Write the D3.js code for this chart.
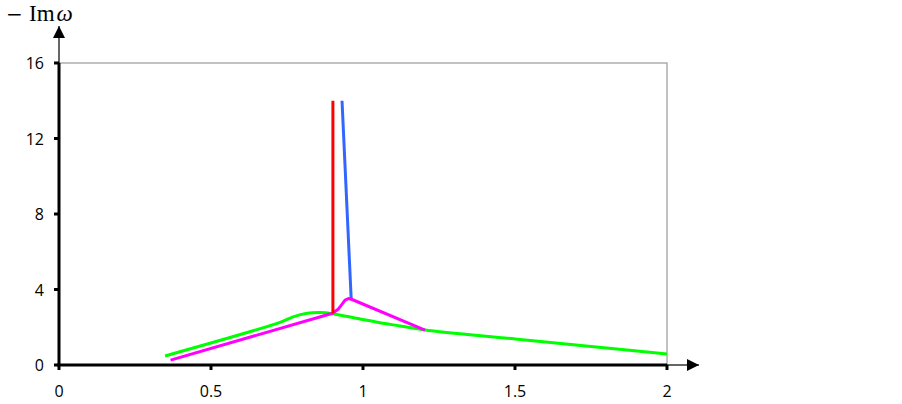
<!DOCTYPE html>
<html>
<head>
<meta charset="utf-8">
<script src="https://cdn.jsdelivr.net/npm/d3@7"></script>
<style>
  body { margin: 0; background: #fff; }
  text { font-family: "Open Sans", "Liberation Sans", sans-serif; }
</style>
</head>
<body>
<script>
var w = 902;
var h = 404;

// axis ticks
var xTicks = [0, 0.5, 1, 1.5, 2];
var yTicks = [0, 4, 8, 12, 16];

// curves (x, -Im omega)
var redLine = [[0.901, 14.0], [0.901, 2.75]];
var blueLine = [[0.931, 14.0], [0.961, 3.55]];
var magentaLine = [[0.367, 0.26], [0.900, 2.74], [0.918, 2.95], [0.930, 3.2], [0.941, 3.44],
  [0.952, 3.52], [0.964, 3.47], [1.204, 1.85]];
var greenLine = [[0.349, 0.48], [0.727, 2.26], [0.770, 2.55], [0.816, 2.74], [0.860, 2.78],
  [0.900, 2.72], [0.990, 2.44], [1.056, 2.24], [1.122, 2.07], [1.204, 1.85], [1.5, 1.38],
  [1.75, 0.98], [2.0, 0.58]];

var svg = d3.select("body").append("svg").attr("width", w).attr("height", h);

var x = d3.scaleLinear().domain([0, 2]).range([59, 667]);
var y = d3.scaleLinear().domain([0, 16]).range([365, 63]);

// plot frame (gray)
svg.append("rect")
  .attr("x", x(0)).attr("y", y(16))
  .attr("width", x(2) - x(0)).attr("height", y(0) - y(16))
  .attr("fill", "none").attr("stroke", "#999").attr("stroke-width", 1.2);

// arrow marker
var defs = svg.append("defs");
defs.append("marker").attr("id", "arr")
  .attr("viewBox", "0 0 10 10").attr("refX", 10).attr("refY", 5)
  .attr("markerWidth", 12).attr("markerHeight", 12).attr("markerUnits", "userSpaceOnUse")
  .attr("orient", "auto")
  .append("path").attr("d", "M0,0L10,5L0,10Z").attr("fill", "#000");

// thin axis extensions with arrows
svg.append("line").attr("x1", x(2)).attr("y1", y(0)).attr("x2", 699).attr("y2", y(0))
  .attr("stroke", "#000").attr("stroke-width", 1.2).attr("marker-end", "url(#arr)");
svg.append("line").attr("x1", x(0)).attr("y1", y(16)).attr("x2", x(0)).attr("y2", 26)
  .attr("stroke", "#000").attr("stroke-width", 1.2).attr("marker-end", "url(#arr)");

// thick axes
svg.append("line").attr("x1", x(0) - 2).attr("y1", y(0)).attr("x2", x(2)).attr("y2", y(0))
  .attr("stroke", "#000").attr("stroke-width", 3);
svg.append("line").attr("x1", x(0)).attr("y1", y(0)).attr("x2", x(0)).attr("y2", y(16))
  .attr("stroke", "#000").attr("stroke-width", 3);

// ticks
svg.selectAll(".xt").data(xTicks).enter().append("line")
  .attr("x1", d => x(d)).attr("x2", d => x(d))
  .attr("y1", y(0)).attr("y2", y(0) + 5)
  .attr("stroke", "#000").attr("stroke-width", 3);
svg.selectAll(".yt").data(yTicks).enter().append("line")
  .attr("x1", x(0) - 5).attr("x2", x(0))
  .attr("y1", d => y(d)).attr("y2", d => y(d))
  .attr("stroke", "#000").attr("stroke-width", 3);

// tick labels
svg.selectAll(".xl").data(xTicks).enter().append("text")
  .attr("x", d => x(d)).attr("y", 397)
  .attr("text-anchor", "middle").attr("font-size", 16)
  .text(d => d);
svg.selectAll(".yl").data(yTicks).enter().append("text")
  .attr("x", 44).attr("y", d => y(d) + 6)
  .attr("text-anchor", "end").attr("font-size", 16)
  .text(d => d);

// axis title
var title = svg.append("text").attr("y", 21)
  .attr("font-size", 23).style("font-family", "Liberation Serif, serif");
title.append("tspan").attr("x", 6).style("font-family", "DejaVu Serif, serif")
  .attr("font-size", 20).text("\u2212");
title.append("tspan").attr("x", 29).text("Im");
title.append("tspan").attr("font-style", "italic").attr("dx", 2).text("\u03C9");

// curves
var line = d3.line().x(d => x(d[0])).y(d => y(d[1])).curve(d3.curveCatmullRom.alpha(0.5));
var straight = d3.line().x(d => x(d[0])).y(d => y(d[1]));

svg.append("path").attr("d", line(greenLine)).attr("fill", "none")
  .attr("stroke", "#00ff00").attr("stroke-width", 3);
svg.append("path").attr("d", straight(magentaLine)).attr("fill", "none")
  .attr("stroke", "#ff00ff").attr("stroke-width", 3).attr("stroke-linejoin", "round");
svg.append("path").attr("d", straight(redLine)).attr("fill", "none")
  .attr("stroke", "#ff0000").attr("stroke-width", 3);
svg.append("path").attr("d", straight(blueLine)).attr("fill", "none")
  .attr("stroke", "#3366ff").attr("stroke-width", 3);
</script>
</body>
</html>
